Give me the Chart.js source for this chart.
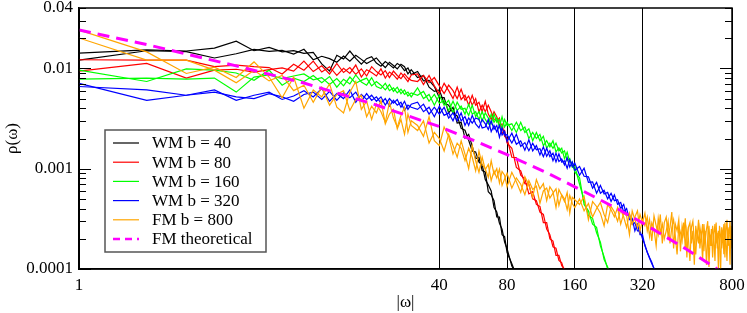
<!DOCTYPE html>
<html>
<head>
<meta charset="utf-8">
<script src="https://cdn.jsdelivr.net/npm/chart.js@4.4.0/dist/chart.umd.min.js"></script>
<style>
  html, body { margin: 0; padding: 0; background: #fff; }
  canvas { display: block; }
</style>
</head>
<body>
<canvas id="graficaRho" width="747" height="313"></canvas>
<script>
// |omega| grid shared by every simulated series
var omega = [1,2,3,4,5,6,7,8,9,10,11,12,13,14,15,16,17,18,19,20,21,22,23,24,25,26,27,28,29,30,
  32,34,36,38,40,42,44,46,48,50,52,54,56,58,60,62,64,66,68,70,72,74,76,78,80,
  84,88,92,96,100,104,108,112,116,120,124,128,132,136,140,144,148,152,156,160,
  168,176,184,192,200,208,216,224,232,240,248,256,264,272,280,288,296,304,312,320,
  328,336,344,352,360,368,376,384,392,400,408,416,424,432,440,448,456,464,472,480,
  488,496,504,512,520,528,536,544,552,560,568,576,584,592,600,608,616,624,632,640,
  648,656,664,672,680,688,696,704,712,720,728,736,744,752,760,768,776,784,792,800];

// WM b = 40 (two branches)
var wm40a = [0.0142,0.0153,0.0149,0.0159,0.0187,0.0150,0.0162,0.0146,0.0150,0.0141,
  0.0144,0.0111,0.0094,0.0135,0.0124,0.0149,0.0126,0.0110,0.0125,0.0131,
  0.0113,0.0105,0.0117,0.0109,0.0101,0.0112,0.0106,0.0095,0.0101,0.0087,
  0.0093,0.0075,0.0076,0.0066,0.0051,0.0051,0.0036,0.0041,0.00285,0.0029,
  0.00202,0.0022,0.00168,0.00126,0.0013,0.00096,0.00093,0.00059,0.00055,0.00048,
  0.00033,0.00033,0.00022,0.00021,0.000146,0.000113,0.000086];
var wm40b = [0.0121,0.0150,0.0147,0.0127,0.0140,0.0155,0.0148,0.0151,0.0139,0.0155,
  0.0122,0.0132,0.0125,0.0115,0.0133,0.0118,0.0135,0.0123,0.0112,0.0119,
  0.0127,0.0112,0.0102,0.0115,0.0107,0.0099,0.0110,0.0104,0.0088,0.0097,
  0.0081,0.0085,0.0065,0.0059,0.0061,0.0045,0.0043,0.0036,0.00336,0.00252,
  0.00242,0.00192,0.0015,0.00147,0.00116,0.0011,0.00078,0.00069,0.0006,0.00041,
  0.00037,0.000285,0.00025,0.000186,0.000159,0.000107,0.00009];

// WM b = 80
var wm80a = [0.0122,0.0121,0.0121,0.0104,0.0108,0.0104,0.0102,0.0088,0.0110,0.0096,
  0.0118,0.0092,0.0104,0.0085,0.0100,0.0089,0.0108,0.0082,0.0097,0.0091,
  0.0084,0.0099,0.0080,0.0092,0.0086,0.0078,0.0090,0.0082,0.0074,0.0086,
  0.0088,0.0069,0.0085,0.0067,0.0056,0.0071,0.0060,0.0050,0.0065,0.0049,
  0.0054,0.0043,0.0054,0.0043,0.0046,0.0037,0.0047,0.0035,0.0031,0.0037,
  0.0033,0.0027,0.0028,0.0021,0.0020,
  0.0013,0.00129,0.00086,0.00079,0.00056,0.00059,0.00044,0.00042,0.00029,0.00029,
  0.0002,0.00019,0.000137,0.000137,0.000108,0.0001,0.000086,0.00008];
var wm80b = [0.0094,0.0112,0.0080,0.0096,0.0098,0.0092,0.0097,0.0101,0.0094,0.0118,
  0.0093,0.0106,0.0088,0.0112,0.0091,0.0102,0.0087,0.0099,0.0084,0.0104,
  0.0093,0.0086,0.0095,0.0081,0.0094,0.0085,0.0079,0.0088,0.0080,0.0076,
  0.0074,0.0085,0.0072,0.0081,0.0067,0.0056,0.0068,0.0060,0.0050,0.0062,
  0.0048,0.0053,0.0043,0.0050,0.0037,0.0043,0.0037,0.0043,0.0037,0.0031,
  0.0030,0.0032,0.00225,0.0024,0.0018,
  0.0016,0.00103,0.00095,0.00071,0.0007,0.0005,0.00048,0.00037,0.00035,0.00025,
  0.00022,0.000166,0.000161,0.000122,0.000115,0.000094,0.00009,0.000078];

// WM b = 160
var wm160a = [0.0096,0.0074,0.0099,0.0096,0.0090,0.0076,0.0096,0.0068,0.0080,0.0074,
  0.0085,0.0072,0.0083,0.0065,0.0078,0.0070,0.0086,0.0073,0.0068,0.0081,
  0.0066,0.0063,0.0071,0.0060,0.0064,0.0057,0.0062,0.0055,0.0058,0.0052,
  0.0064,0.0050,0.0055,0.0043,0.0054,0.0043,0.0048,0.0036,0.0046,0.0039,
  0.0040,0.0034,0.0043,0.0033,0.0037,0.0030,0.0036,0.0032,0.0028,0.0035,
  0.0029,0.0031,0.0025,0.0031,0.0027,
  0.0028,0.0023,0.0029,0.0023,0.0025,0.0019,0.0023,0.0019,0.0021,0.0016,
  0.0018,0.0016,0.0018,0.0015,0.0016,0.00126,0.00146,0.00116,0.00116,0.00093,
  0.00081,0.00044,0.00038,0.00028,0.00026,0.00017,0.000133,0.0001,0.000082];
var wm160b = [0.0078,0.0080,0.0078,0.0080,0.0058,0.0082,0.0086,0.0079,0.0084,0.0088,
  0.0077,0.0081,0.0069,0.0079,0.0067,0.0082,0.0071,0.0076,0.0080,0.0067,
  0.0074,0.0068,0.0061,0.0069,0.0059,0.0065,0.0056,0.0061,0.0053,0.0057,
  0.0054,0.0059,0.0047,0.0055,0.0045,0.0048,0.0038,0.0047,0.0038,0.0042,
  0.0035,0.0044,0.0035,0.0037,0.0031,0.0037,0.0031,0.0028,0.0035,0.0029,
  0.0032,0.0026,0.0033,0.0026,0.0029,
  0.0024,0.0029,0.0024,0.0026,0.0020,0.0023,0.0020,0.0022,0.0017,0.0019,
  0.00165,0.0019,0.00147,0.00161,0.00143,0.00151,0.0012,0.00126,0.00103,0.00106,
  0.0007,0.00049,0.00034,0.00032,0.00023,0.000185,0.000124,0.000105,0.000082];

// WM b = 320
var wm320a = [0.0071,0.0048,0.0054,0.0061,0.0048,0.0054,0.0058,0.0049,0.0053,0.0060,
  0.0052,0.0063,0.0047,0.0056,0.0050,0.0061,0.0046,0.0055,0.0049,0.0054,
  0.0047,0.0052,0.0043,0.0050,0.0045,0.0049,0.0041,0.0047,0.0039,0.0044,
  0.0046,0.0037,0.0041,0.0033,0.0042,0.0034,0.0036,0.0030,0.0038,0.0030,
  0.0033,0.0027,0.0034,0.0028,0.00255,0.0031,0.0028,0.00246,0.0030,0.00247,
  0.0027,0.00206,0.00255,0.00216,0.00218,
  0.0018,0.0022,0.00167,0.00182,0.00151,0.00179,0.00154,0.00158,0.00132,0.0016,
  0.00132,0.00143,0.00117,0.00141,0.00116,0.0012,0.00101,0.00123,0.00105,0.00114,
  0.00086,0.00101,0.00073,0.00074,0.00057,0.00068,0.00056,0.00058,0.00047,0.00055,
  0.00044,0.00046,0.00037,0.0004,0.00031,0.00032,0.00024,0.00028,0.00022,0.00022,
  0.00017,0.000147,0.00013,0.000117,0.0001,0.00009];
var wm320b = [0.0066,0.0061,0.0054,0.0058,0.0052,0.0050,0.0056,0.0052,0.0047,0.0055,
  0.0058,0.0049,0.0059,0.0048,0.0057,0.0051,0.0058,0.0047,0.0056,0.0048,
  0.0052,0.0045,0.0050,0.0042,0.0048,0.0043,0.0046,0.0038,0.0043,0.0041,
  0.0039,0.0044,0.0035,0.0041,0.0035,0.0041,0.0032,0.0036,0.0030,0.0036,
  0.0027,0.0032,0.00285,0.0032,0.0031,0.00255,0.0026,0.0031,0.00234,0.0027,
  0.00233,0.0027,0.00216,0.00235,0.00187,
  0.00226,0.00175,0.00189,0.00153,0.00194,0.0015,0.0017,0.00137,0.00165,0.00133,
  0.00151,0.0012,0.00143,0.00118,0.00125,0.00109,0.00129,0.00104,0.00117,0.00096,
  0.00105,0.00084,0.00083,0.00064,0.00073,0.00057,0.00061,0.0005,0.00057,0.00048,
  0.00049,0.0004,0.00044,0.00034,0.00035,0.00028,0.00029,0.00024,0.00024,0.0002,
  0.000175,0.000147,0.000128,0.000113,0.000102,0.00009];

// FM b = 800
var fm800a = [0.0241,0.0146,0.0089,0.0103,0.0081,0.0116,0.0082,0.0051,0.0082,0.0040,
  0.0061,0.0052,0.0070,0.0041,0.0036,0.0058,0.0074,0.0039,0.0047,0.0031,
  0.0044,0.0037,0.0029,0.0046,0.0032,0.0026,0.0034,0.0041,0.0023,0.0030,
  0.0027,0.0021,0.0033,0.0019,0.0017,0.0026,0.0021,0.0014,0.0018,0.0016,
  0.0012,0.0016,0.0013,0.00095,0.0015,0.0011,0.0010,0.00082,0.0012,0.00088,
  0.0010,0.00072,0.00094,0.00086,0.00066,
  0.00092,0.00074,0.00058,0.00083,0.00069,0.00052,0.00078,0.00063,0.00071,0.00048,
  0.00066,0.00059,0.00041,0.00062,0.00054,0.00047,0.00058,0.00036,0.00052,0.00049,
  0.00044,0.00053,0.00031,0.00047,0.00042,0.00036,0.00027,0.00044,0.00039,0.00033,
  0.00041,0.00028,0.00036,0.00034,0.00022,0.00038,0.00031,0.00026,0.00035,0.00029,
  0.00036,0.00024,0.00031,0.00019,0.00034,0.00027,0.00022,0.00035,0.00018,0.00029,
  0.00033,0.00021,0.00026,0.00037,0.00016,0.00028,0.00024,0.00031,0.00015,0.00027,
  0.00022,0.00032,0.00013,0.00026,0.00029,0.00018,0.00024,0.00011,0.00027,0.00021,
  0.00031,0.00016,0.00023,0.00012,0.00028,0.00019,0.00025,0.00030,0.000105,0.00022,
  0.00017,0.00027,0.00021,0.00012,0.00029,0.00016,0.00024,0.00019,0.000095,0.00026,
  0.00021,0.00028,0.00013,0.00024,0.00031,0.00017,0.00022,0.00011,0.00027,0.00023];
var fm800b = [0.0201,0.0121,0.0121,0.0096,0.0072,0.0096,0.0075,0.0085,0.0060,0.0068,
  0.0046,0.0065,0.0043,0.0055,0.0060,0.0038,0.0049,0.0054,0.0033,0.0042,
  0.0036,0.0048,0.0028,0.0035,0.0039,0.0025,0.0031,0.0022,0.0035,0.0027,
  0.0024,0.0030,0.0018,0.0023,0.0020,0.0015,0.0022,0.0017,0.0013,0.0019,
  0.0014,0.0010,0.0017,0.0012,0.00092,0.0013,0.00098,0.0011,0.00076,0.00095,
  0.00081,0.00099,0.00068,0.00079,0.00090,
  0.00064,0.00081,0.00070,0.00055,0.00076,0.00062,0.00067,0.00045,0.00060,0.00064,
  0.00051,0.00057,0.00063,0.00043,0.00055,0.00050,0.00039,0.00054,0.00045,0.00041,
  0.00050,0.00038,0.00045,0.00033,0.00040,0.00046,0.00035,0.00029,0.00042,0.00037,
  0.00030,0.00039,0.00033,0.00026,0.00036,0.00028,0.00033,0.00038,0.00024,0.00031,
  0.00027,0.00033,0.00021,0.00029,0.00025,0.00017,0.00032,0.00023,0.00028,0.00020,
  0.00024,0.00030,0.00018,0.00026,0.00031,0.00021,0.00014,0.00027,0.00023,0.00019,
  0.00029,0.00016,0.00025,0.00020,0.00012,0.00026,0.00030,0.00019,0.00014,0.00024,
  0.00018,0.00026,0.00021,0.00028,0.00015,0.00024,0.00011,0.00020,0.00027,0.00017,
  0.00025,0.00013,0.00022,0.00028,0.00018,0.00023,0.00010,0.00027,0.00021,0.00016,
  0.00024,0.00014,0.00029,0.00019,0.00012,0.00026,0.00021,0.00030,0.00016,0.00025];

// FM theoretical curve
var omegaTeorico = [1,2,3,5,10,20,40,60,80,120,160,250,320,500,687,800];
var rhoTeorico = [0.0241,0.0173,0.0139,0.0106,0.00714,0.00447,0.00263,0.00182,0.00138,0.000912,0.00066,0.000394,0.000288,0.000158,0.0001,0.0000813];

var xTicks = [1,40,80,160,320,800];
var yTicks = [0.0001,0.001,0.01,0.04];

var etiquetas = ['WM b = 40','WM b = 80','WM b = 160','WM b = 320','FM b = 800','FM theoretical'];
var colores = ['#000000','#ff0000','#00ff00','#0000ff','#ffa500','#ff00ff'];

var fuente = '"Liberation Serif", "DejaVu Serif", serif';

function serie(valores, color, orden) {
    return {
        data: valores.map(function(v, i) { return {x: omega[i], y: v}; }),
        borderColor: color,
        borderWidth: 1.2,
        pointRadius: 0,
        fill: false,
        tension: 0,
        order: orden
    };
}

var teorico = {
    data: rhoTeorico.map(function(v, i) { return {x: omegaTeorico[i], y: v}; }),
    borderColor: colores[5],
    borderWidth: 3,
    borderDash: [12, 7],
    pointRadius: 0,
    fill: false,
    order: 0
};

var marcos = {
    id: 'marcos',
    afterDraw: function(chart) {
        var ctx = chart.ctx, a = chart.chartArea, ys = chart.scales.y;
        ctx.save();
        // inward ticks on left and right
        ctx.strokeStyle = '#000';
        ctx.lineWidth = 1;
        for (var d = -4; d <= -2; d++) {
            for (var m = 1; m <= 9; m++) {
                var v = m * Math.pow(10, d);
                if (v > 0.04 + 1e-9) continue;
                var py = Math.round(ys.getPixelForValue(v)) + 0.5;
                var len = m === 1 ? 12 : 7;
                ctx.beginPath();
                ctx.moveTo(a.left, py); ctx.lineTo(a.left + len, py);
                ctx.moveTo(a.right, py); ctx.lineTo(a.right - len, py);
                ctx.stroke();
            }
        }
        // frame
        ctx.lineWidth = 1.5;
        ctx.strokeRect(a.left, a.top, a.right - a.left, a.bottom - a.top);

        // legend box
        var lx = a.left + 26, ly = a.top + 122, lw = 161, lh = 122;
        ctx.fillStyle = '#fff';
        ctx.fillRect(lx, ly, lw, lh);
        ctx.strokeStyle = '#555';
        ctx.lineWidth = 1.5;
        ctx.strokeRect(lx, ly, lw, lh);
        ctx.font = '17px ' + fuente;
        ctx.textBaseline = 'middle';
        ctx.textAlign = 'left';
        for (var i = 0; i < etiquetas.length; i++) {
            var ry = ly + 13 + i * 19.2;
            ctx.beginPath();
            ctx.strokeStyle = colores[i];
            if (i === 5) { ctx.lineWidth = 2.5; ctx.setLineDash([7, 5]); }
            else { ctx.lineWidth = 1.2; ctx.setLineDash([]); }
            ctx.moveTo(lx + 8, ry); ctx.lineTo(lx + 34, ry);
            ctx.stroke();
            ctx.setLineDash([]);
            ctx.fillStyle = '#000';
            ctx.fillText(etiquetas[i], lx + 47, ry + 1);
        }
        ctx.restore();
    }
};

var ctx = document.getElementById('graficaRho').getContext('2d');
var graficaRho = new Chart(ctx, {
    type: 'line',
    data: {
        datasets: [
            teorico,
            serie(fm800a, colores[4], 1), serie(fm800b, colores[4], 1),
            serie(wm320a, colores[3], 2), serie(wm320b, colores[3], 2),
            serie(wm160a, colores[2], 3), serie(wm160b, colores[2], 3),
            serie(wm80a, colores[1], 4), serie(wm80b, colores[1], 4),
            serie(wm40a, colores[0], 5), serie(wm40b, colores[0], 5)
        ]
    },
    options: {
        responsive: false,
        animation: false,
        devicePixelRatio: 1,
        layout: { padding: { left: 0, right: 15, top: 8, bottom: 0 } },
        plugins: { legend: { display: false }, tooltip: { enabled: false } },
        scales: {
            x: {
                type: 'logarithmic',
                min: 1, max: 800,
                afterBuildTicks: function(scale) {
                    scale.ticks = xTicks.map(function(v) { return {value: v}; });
                },
                afterFit: function(scale) { scale.height = 44; },
                ticks: {
                    autoSkip: false, maxRotation: 0, padding: 2,
                    color: '#000', font: { family: fuente, size: 17 },
                    callback: function(v) { return String(v); }
                },
                grid: {
                    color: '#000', lineWidth: 1,
                    drawTicks: true, tickLength: 4, tickColor: 'rgba(0,0,0,0)'
                },
                border: { display: true, color: '#000', width: 1.5 },
                title: {
                    display: true, text: '|ω|', color: '#000',
                    font: { family: fuente, size: 17 }, padding: { top: 0, bottom: 0 }
                }
            },
            y: {
                type: 'logarithmic',
                min: 0.0001, max: 0.04,
                afterBuildTicks: function(scale) {
                    scale.ticks = yTicks.map(function(v) { return {value: v}; });
                },
                afterFit: function(scale) {
                    scale.width = 79;
                    scale.paddingTop = 0; scale.paddingBottom = 0;
                },
                ticks: {
                    padding: 6, color: '#000', font: { family: fuente, size: 17 },
                    callback: function(v) { return String(v); }
                },
                grid: { display: false, drawTicks: false },
                border: { display: true, color: '#000', width: 1.5 },
                title: {
                    display: true, text: 'ρ(ω)', color: '#000',
                    font: { family: fuente, size: 17 }, padding: { top: 2, bottom: 0 }
                }
            }
        }
    },
    plugins: [marcos]
});
</script>
</body>
</html>
